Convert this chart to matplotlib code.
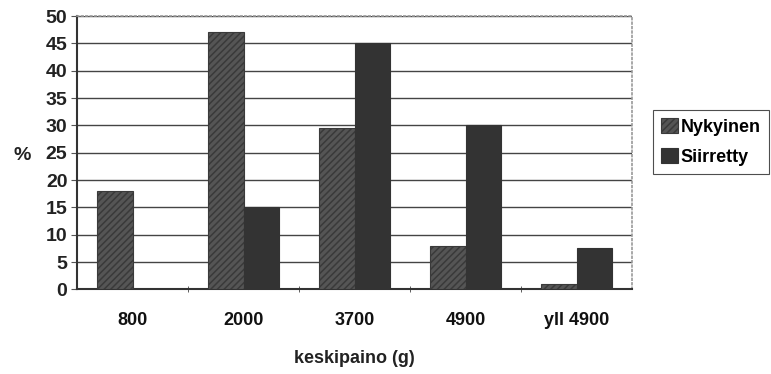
import matplotlib.pyplot as plt
import numpy as np

plt.rcParams['font.family'] = ['Liberation Sans', 'DejaVu Sans']
plt.rcParams['font.weight'] = 'bold'
plt.rcParams['axes.labelweight'] = 'bold'
plt.rcParams['hatch.color'] = '#dddddd'
plt.rcParams['hatch.linewidth'] = 1.1

# paino-luokat ja osuudet
luokat = ["800", "2000", "3700", "4900", "yli 4900"]
luokat_txt = ["800", "2000", "3700", "4900", "yll 4900"]
nykyinen = [18, 47, 29.5, 8, 1]
siirretty = [0, 15, 45, 30, 7.5]
yticks = [0, 5, 10, 15, 20, 25, 30, 35, 40, 45, 50]

fig = plt.figure(figsize=(7.71, 3.74), dpi=100)
ax = fig.add_axes([0.1, 0.226, 0.72, 0.731])

x = np.arange(len(luokat))
w = 0.32
ax.bar(x - w/2, nykyinen, w, color='#555555', edgecolor='#3a3a3a',
       hatch='/////', linewidth=0.8, label='Nykyinen', zorder=3)
ax.bar(x + w/2, siirretty, w, color='#333333', edgecolor='#333333',
       linewidth=0.8, label='Siirretty', zorder=3)

ax.set_xlim(-0.5, len(luokat) - 0.5)
ax.set_ylim(0, 50)
ax.set_yticks(yticks)
ax.set_yticklabels([str(v) for v in yticks], fontsize=14, color='#222222')
ax.yaxis.grid(True, color='#444444', linewidth=1.0, zorder=0)

ax.set_xticks(x)
ax.set_xticklabels(luokat_txt, fontsize=13, color='#111111')
ax.tick_params(axis='x', length=0, pad=16)
ax.set_xticks(np.arange(0.5, len(luokat) - 0.5, 1), minor=True)
ax.tick_params(axis='x', which='minor', length=5, direction='inout', color='#444444')
ax.tick_params(axis='y', length=4, direction='out', color='#555555', pad=3)

ax.spines['left'].set_color('#333333')
ax.spines['left'].set_linewidth(1.5)
ax.spines['bottom'].set_color('#333333')
ax.spines['bottom'].set_linewidth(1.5)
for s in ('top', 'right'):
    ax.spines[s].set_color('#999999')
    ax.spines[s].set_linestyle(':')
    ax.spines[s].set_linewidth(1.2)

ax.set_xlabel('keskipaino (g)', fontsize=13, labelpad=15, color='#222222')
fig.text(0.018, 0.585, '%', fontsize=14, color='#222222', va='center')

leg = ax.legend(loc='center left', bbox_to_anchor=(1.038, 0.54), fontsize=13,
                frameon=True, fancybox=False, edgecolor='#222222',
                handlelength=0.9, handleheight=0.9, handletextpad=0.15,
                borderpad=0.45, labelspacing=0.7, borderaxespad=0)
leg.get_frame().set_linewidth(0.8)

fig.savefig('out.png', dpi=100)
